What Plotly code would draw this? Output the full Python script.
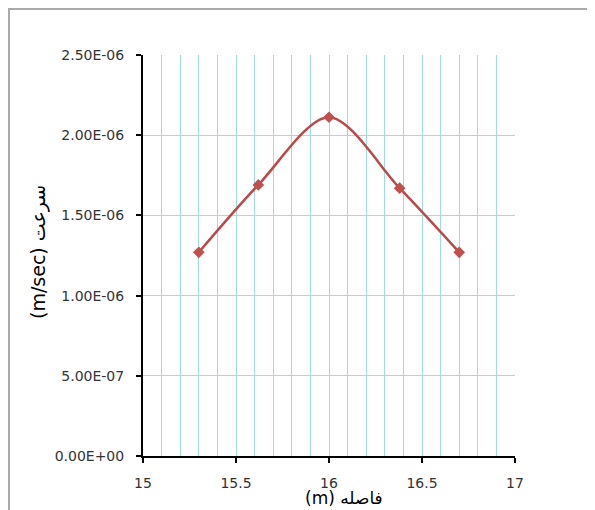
import plotly.graph_objects as go

distance_m = [15.3, 15.62, 16.0, 16.38, 16.7]
velocity = [1.27e-6, 1.69e-6, 2.112e-6, 1.67e-6, 1.27e-6]
y_ticks = [0.0, 5e-7, 1e-6, 1.5e-6, 2e-6, 2.5e-6]
y_ticktext = [f"{v:.2E}" for v in y_ticks]
x_ticks = [15, 15.5, 16, 16.5, 17]
x_ticktext = ["15", "15.5", "16", "16.5", "17"]
x_title = "(m) فاصله"
y_title = "(m/sec) سرعت"

OFF = 8  # page body margin
W, H = 595 - OFF, 510 - OFF
L, T = 143 - OFF, 55 - OFF
pw, ph = 372, 401
R, B = W - L - pw, H - T - ph

def px_x(p):  # page pixel -> paper x
    return (p - OFF - L) / pw

def px_y(p):  # page pixel -> paper y
    return (T + ph - (p - OFF)) / ph

grid_col = "#9fdede"
font_fam = "DejaVu Sans, Tahoma, Arial, sans-serif"
tickfont = dict(family=font_fam, size=14, color="#333333")

fig = go.Figure()
fig.add_trace(go.Scatter(
    x=distance_m, y=velocity, mode="lines+markers",
    line=dict(color="#b84a4a", width=2.5, shape="spline", smoothing=0.9),
    marker=dict(symbol="diamond", size=9, color="#c0504d"),
    showlegend=False, cliponaxis=False,
))

fig.update_xaxes(
    range=[15, 17], tickvals=x_ticks, ticktext=x_ticktext,
    showline=True, linecolor="black", linewidth=2,
    ticks="outside", ticklen=5, tickwidth=2, tickcolor="black",
    showgrid=True, gridcolor=grid_col, gridwidth=1,
    minor=dict(dtick=0.1, showgrid=True, gridcolor=grid_col, gridwidth=1, ticks=""),
    zeroline=False, ticklabelstandoff=8, tickfont=tickfont,
)
fig.update_yaxes(
    range=[0, 2.5e-6], tickvals=y_ticks, ticktext=y_ticktext,
    showline=True, linecolor="black", linewidth=2,
    ticks="outside", ticklen=5, tickwidth=2, tickcolor="black",
    showgrid=True, gridcolor=grid_col, gridwidth=1,
    zeroline=False, ticklabelstandoff=9, tickfont=tickfont,
)

fig.add_annotation(
    text=x_title, xref="paper", yref="paper", x=px_x(344), y=px_y(498),
    showarrow=False, xanchor="center", yanchor="middle",
    font=dict(family=font_fam, size=17, color="black"),
)
fig.add_annotation(
    text=y_title, xref="paper", yref="paper", x=px_x(38), y=px_y(252),
    showarrow=False, xanchor="center", yanchor="middle", textangle=-90,
    font=dict(family=font_fam, size=19, color="black"),
)

fig.add_shape(
    type="rect", xref="paper", yref="paper",
    x0=px_x(9), x1=px_x(640), y0=px_y(560), y1=px_y(9),
    line=dict(color="#a9a9a9", width=2), fillcolor="rgba(0,0,0,0)", layer="below",
)

fig.update_layout(
    template="none",
    width=W, height=H,
    margin=dict(l=L, r=R, t=T, b=B, autoexpand=False),
    paper_bgcolor="white", plot_bgcolor="white",
)
fig.write_html("out.html")
